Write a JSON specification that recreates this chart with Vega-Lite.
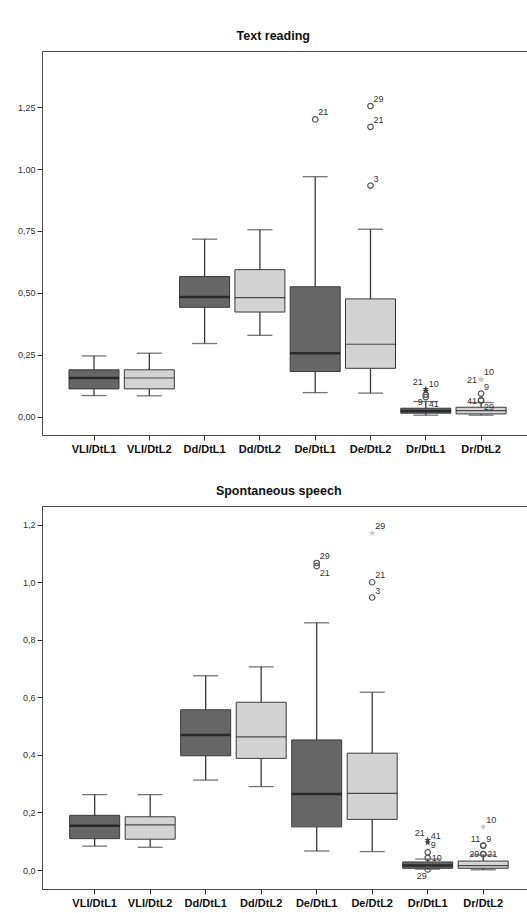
{
  "$schema": "https://vega.github.io/schema/vega-lite/v6.json",
  "padding": {"left": 16, "top": 29, "right": 0, "bottom": 0},
  "spacing": 29,
  "datasets": {
    "tr_box": [
      {"group": "VLI/DtL1", "lang": "L1", "lower": 0.086, "q1": 0.113, "median": 0.157, "q3": 0.19, "upper": 0.246},
      {"group": "VLI/DtL2", "lang": "L2", "lower": 0.085, "q1": 0.113, "median": 0.157, "q3": 0.19, "upper": 0.257},
      {"group": "Dd/DtL1", "lang": "L1", "lower": 0.296, "q1": 0.442, "median": 0.484, "q3": 0.566, "upper": 0.717},
      {"group": "Dd/DtL2", "lang": "L2", "lower": 0.329, "q1": 0.423, "median": 0.481, "q3": 0.594, "upper": 0.755},
      {"group": "De/DtL1", "lang": "L1", "lower": 0.098, "q1": 0.183, "median": 0.257, "q3": 0.525, "upper": 0.969},
      {"group": "De/DtL2", "lang": "L2", "lower": 0.096, "q1": 0.196, "median": 0.293, "q3": 0.476, "upper": 0.757},
      {"group": "Dr/DtL1", "lang": "L1", "lower": 0.007, "q1": 0.015, "median": 0.024, "q3": 0.035, "upper": 0.062},
      {"group": "Dr/DtL2", "lang": "L2", "lower": 0.007, "q1": 0.012, "median": 0.025, "q3": 0.039, "upper": 0.058}
    ],
    "tr_out": [
      {"group": "De/DtL1", "lang": "L1", "id": "21", "kind": "outlier", "value": 1.2},
      {"group": "De/DtL2", "lang": "L2", "id": "29", "kind": "outlier", "value": 1.254},
      {"group": "De/DtL2", "lang": "L2", "id": "21", "kind": "outlier", "value": 1.17},
      {"group": "De/DtL2", "lang": "L2", "id": "3", "kind": "outlier", "value": 0.933},
      {"group": "Dr/DtL1", "lang": "L1", "id": "21", "kind": "extreme", "value": 0.112},
      {"group": "Dr/DtL1", "lang": "L1", "id": "10", "kind": "extreme", "value": 0.104},
      {"group": "Dr/DtL1", "lang": "L1", "id": "9", "kind": "outlier", "value": 0.09},
      {"group": "Dr/DtL1", "lang": "L1", "id": "41", "kind": "outlier", "value": 0.08},
      {"group": "Dr/DtL2", "lang": "L2", "id": "10", "kind": "extreme", "value": 0.153},
      {"group": "Dr/DtL2", "lang": "L2", "id": "21", "kind": "extreme", "value": 0.148},
      {"group": "Dr/DtL2", "lang": "L2", "id": "9", "kind": "outlier", "value": 0.094},
      {"group": "Dr/DtL2", "lang": "L2", "id": "29", "kind": "outlier", "value": 0.068},
      {"group": "Dr/DtL2", "lang": "L2", "id": "41", "kind": "outlier", "value": 0.066}
    ],
    "ss_box": [
      {"group": "VLI/DtL1", "lang": "L1", "lower": 0.083, "q1": 0.109, "median": 0.154, "q3": 0.19, "upper": 0.262},
      {"group": "VLI/DtL2", "lang": "L2", "lower": 0.079, "q1": 0.107, "median": 0.157, "q3": 0.185, "upper": 0.262},
      {"group": "Dd/DtL1", "lang": "L1", "lower": 0.3125, "q1": 0.397, "median": 0.469, "q3": 0.557, "upper": 0.675},
      {"group": "Dd/DtL2", "lang": "L2", "lower": 0.29, "q1": 0.388, "median": 0.463, "q3": 0.583, "upper": 0.706},
      {"group": "De/DtL1", "lang": "L1", "lower": 0.066, "q1": 0.15, "median": 0.264, "q3": 0.452, "upper": 0.859},
      {"group": "De/DtL2", "lang": "L2", "lower": 0.064, "q1": 0.176, "median": 0.266, "q3": 0.406, "upper": 0.618},
      {"group": "Dr/DtL1", "lang": "L1", "lower": 0.003, "q1": 0.006, "median": 0.016, "q3": 0.028, "upper": 0.038},
      {"group": "Dr/DtL2", "lang": "L2", "lower": 0.001, "q1": 0.006, "median": 0.015, "q3": 0.031, "upper": 0.052}
    ],
    "ss_out": [
      {"group": "De/DtL1", "lang": "L1", "id": "29", "kind": "outlier", "value": 1.067},
      {"group": "De/DtL1", "lang": "L1", "id": "21", "kind": "outlier", "value": 1.056},
      {"group": "De/DtL2", "lang": "L2", "id": "29", "kind": "extreme", "value": 1.171},
      {"group": "De/DtL2", "lang": "L2", "id": "21", "kind": "outlier", "value": 1.0},
      {"group": "De/DtL2", "lang": "L2", "id": "3", "kind": "outlier", "value": 0.947},
      {"group": "Dr/DtL1", "lang": "L1", "id": "21", "kind": "extreme", "value": 0.104},
      {"group": "Dr/DtL1", "lang": "L1", "id": "41", "kind": "extreme", "value": 0.095},
      {"group": "Dr/DtL1", "lang": "L1", "id": "9", "kind": "outlier", "value": 0.0615},
      {"group": "Dr/DtL1", "lang": "L1", "id": "10", "kind": "outlier", "value": 0.042},
      {"group": "Dr/DtL1", "lang": "L1", "id": "29", "kind": "outlier", "value": 0.002},
      {"group": "Dr/DtL2", "lang": "L2", "id": "10", "kind": "extreme", "value": 0.15},
      {"group": "Dr/DtL2", "lang": "L2", "id": "11", "kind": "outlier", "value": 0.085},
      {"group": "Dr/DtL2", "lang": "L2", "id": "9", "kind": "outlier", "value": 0.085},
      {"group": "Dr/DtL2", "lang": "L2", "id": "29", "kind": "outlier", "value": 0.055},
      {"group": "Dr/DtL2", "lang": "L2", "id": "21", "kind": "outlier", "value": 0.055}
    ]
  },
  "vconcat": [
    {
      "title": {"text": "Text reading"},
      "width": 487,
      "height": 384,
      "encoding": {
        "x": {"field": "group", "type": "nominal", "title": null,
          "scale": {"domain": ["VLI/DtL1", "VLI/DtL2", "Dd/DtL1", "Dd/DtL2", "De/DtL1", "De/DtL2", "Dr/DtL1", "Dr/DtL2"], "paddingInner": 0, "paddingOuter": 0.4035, "align": 0.546}}
      },
      "layer": [
        {"data": {"name": "tr_box"}, "mark": {"type": "rule", "color": "#3a3a3a", "strokeWidth": 1.3},
          "encoding": {"y": {"field": "lower", "type": "quantitative", "title": null,
            "scale": {"domain": [-0.073, 1.476], "nice": false, "zero": false},
            "axis": {"values": [0, 0.25, 0.5, 0.75, 1, 1.25], "format": ".2f"}},
            "y2": {"field": "upper"}}},
        {"data": {"name": "tr_box"}, "mark": {"type": "tick", "size": 25, "thickness": 1.3, "color": "#3a3a3a"},
          "encoding": {"y": {"field": "lower", "type": "quantitative", "title": null}}},
        {"data": {"name": "tr_box"}, "mark": {"type": "tick", "size": 25, "thickness": 1.3, "color": "#3a3a3a"},
          "encoding": {"y": {"field": "upper", "type": "quantitative", "title": null}}},
        {"data": {"name": "tr_box"}, "mark": {"type": "bar", "size": 50, "stroke": "#3a3a3a", "strokeWidth": 1},
          "encoding": {"y": {"field": "q1", "type": "quantitative", "title": null}, "y2": {"field": "q3"},
            "fill": {"field": "lang", "type": "nominal", "scale": {"domain": ["L1", "L2"], "range": ["#666666", "#d3d3d3"]}, "legend": null}}},
        {"data": {"name": "tr_box"}, "transform": [{"filter": "datum.lang === 'L1'"}], "mark": {"type": "tick", "size": 50, "thickness": 2.5, "color": "#111111"},
          "encoding": {"y": {"field": "median", "type": "quantitative", "title": null}}},
        {"data": {"name": "tr_box"}, "transform": [{"filter": "datum.lang === 'L2'"}], "mark": {"type": "tick", "size": 50, "thickness": 1.2, "color": "#111111"},
          "encoding": {"y": {"field": "median", "type": "quantitative", "title": null}}},
        {"data": {"name": "tr_out"}, "transform": [{"filter": "datum.kind === 'outlier'"}], "mark": {"type": "point", "shape": "circle", "filled": false, "size": 30, "stroke": "#555555", "strokeWidth": 1.2, "opacity": 1},
          "encoding": {"y": {"field": "value", "type": "quantitative", "title": null}}},
        {"data": {"name": "tr_out"}, "transform": [{"filter": "datum.kind === 'extreme'"}], "mark": {"type": "point", "shape": "M0,-1L0.2245,-0.309L0.951,-0.309L0.363,0.118L0.588,0.809L0,0.382L-0.588,0.809L-0.363,0.118L-0.951,-0.309L-0.2245,-0.309Z", "filled": true, "size": 50, "opacity": 1},
          "encoding": {"y": {"field": "value", "type": "quantitative", "title": null},
            "color": {"field": "lang", "type": "nominal", "scale": {"domain": ["L1", "L2"], "range": ["#444444", "#c8c8c8"]}, "legend": null}}},
        {"data": {"name": "tr_out"}, "transform": [{"filter": "indexof(['Dr/DtL1|21','Dr/DtL2|21','Dr/DtL2|41','Dr/DtL1|9','Dr/DtL1|41','Dr/DtL2|29'], datum.group + '|' + datum.id) < 0"}],
          "mark": {"type": "text", "align": "left", "baseline": "middle", "dx": 3, "dy": -7, "fontSize": 9, "color": "#333333"},
          "encoding": {"y": {"field": "value", "type": "quantitative", "title": null}, "text": {"field": "id"}}},
        {"data": {"name": "tr_out"}, "transform": [{"filter": "indexof(['Dr/DtL1|21'], datum.group + '|' + datum.id) >= 0"}],
          "mark": {"type": "text", "align": "right", "baseline": "middle", "dx": -3, "dy": -7, "fontSize": 9, "color": "#333333"},
          "encoding": {"y": {"field": "value", "type": "quantitative", "title": null}, "text": {"field": "id"}}},
        {"data": {"name": "tr_out"}, "transform": [{"filter": "indexof(['Dr/DtL2|21','Dr/DtL2|41'], datum.group + '|' + datum.id) >= 0"}],
          "mark": {"type": "text", "align": "right", "baseline": "middle", "dx": -4, "dy": 0, "fontSize": 9, "color": "#333333"},
          "encoding": {"y": {"field": "value", "type": "quantitative", "title": null}, "text": {"field": "id"}}},
        {"data": {"name": "tr_out"}, "transform": [{"filter": "indexof(['Dr/DtL1|9'], datum.group + '|' + datum.id) >= 0"}],
          "mark": {"type": "text", "align": "right", "baseline": "middle", "dx": -3, "dy": 7, "fontSize": 9, "color": "#333333"},
          "encoding": {"y": {"field": "value", "type": "quantitative", "title": null}, "text": {"field": "id"}}},
        {"data": {"name": "tr_out"}, "transform": [{"filter": "indexof(['Dr/DtL1|41','Dr/DtL2|29'], datum.group + '|' + datum.id) >= 0"}],
          "mark": {"type": "text", "align": "left", "baseline": "middle", "dx": 3, "dy": 7, "fontSize": 9, "color": "#333333"},
          "encoding": {"y": {"field": "value", "type": "quantitative", "title": null}, "text": {"field": "id"}}}
      ]
    },
    {
      "title": {"text": "Spontaneous speech"},
      "width": 493,
      "height": 383,
      "encoding": {
        "x": {"field": "group", "type": "nominal", "title": null,
          "scale": {"domain": ["VLI/DtL1", "VLI/DtL2", "Dd/DtL1", "Dd/DtL2", "De/DtL1", "De/DtL2", "Dr/DtL1", "Dr/DtL2"], "paddingInner": 0, "paddingOuter": 0.441, "align": 0.509}}
      },
      "layer": [
        {"data": {"name": "ss_box"}, "mark": {"type": "rule", "color": "#3a3a3a", "strokeWidth": 1.3},
          "encoding": {"y": {"field": "lower", "type": "quantitative", "title": null,
            "scale": {"domain": [-0.066, 1.265], "nice": false, "zero": false},
            "axis": {"values": [0, 0.2, 0.4, 0.6, 0.8, 1, 1.2], "format": ".1f"}},
            "y2": {"field": "upper"}}},
        {"data": {"name": "ss_box"}, "mark": {"type": "tick", "size": 25, "thickness": 1.3, "color": "#3a3a3a"},
          "encoding": {"y": {"field": "lower", "type": "quantitative", "title": null}}},
        {"data": {"name": "ss_box"}, "mark": {"type": "tick", "size": 25, "thickness": 1.3, "color": "#3a3a3a"},
          "encoding": {"y": {"field": "upper", "type": "quantitative", "title": null}}},
        {"data": {"name": "ss_box"}, "mark": {"type": "bar", "size": 50, "stroke": "#3a3a3a", "strokeWidth": 1},
          "encoding": {"y": {"field": "q1", "type": "quantitative", "title": null}, "y2": {"field": "q3"},
            "fill": {"field": "lang", "type": "nominal", "scale": {"domain": ["L1", "L2"], "range": ["#666666", "#d3d3d3"]}, "legend": null}}},
        {"data": {"name": "ss_box"}, "transform": [{"filter": "datum.lang === 'L1'"}], "mark": {"type": "tick", "size": 50, "thickness": 2.5, "color": "#111111"},
          "encoding": {"y": {"field": "median", "type": "quantitative", "title": null}}},
        {"data": {"name": "ss_box"}, "transform": [{"filter": "datum.lang === 'L2'"}], "mark": {"type": "tick", "size": 50, "thickness": 1.2, "color": "#111111"},
          "encoding": {"y": {"field": "median", "type": "quantitative", "title": null}}},
        {"data": {"name": "ss_out"}, "transform": [{"filter": "datum.kind === 'outlier'"}], "mark": {"type": "point", "shape": "circle", "filled": false, "size": 30, "stroke": "#555555", "strokeWidth": 1.2, "opacity": 1},
          "encoding": {"y": {"field": "value", "type": "quantitative", "title": null}}},
        {"data": {"name": "ss_out"}, "transform": [{"filter": "datum.kind === 'extreme'"}], "mark": {"type": "point", "shape": "M0,-1L0.2245,-0.309L0.951,-0.309L0.363,0.118L0.588,0.809L0,0.382L-0.588,0.809L-0.363,0.118L-0.951,-0.309L-0.2245,-0.309Z", "filled": true, "size": 50, "opacity": 1},
          "encoding": {"y": {"field": "value", "type": "quantitative", "title": null},
            "color": {"field": "lang", "type": "nominal", "scale": {"domain": ["L1", "L2"], "range": ["#444444", "#c8c8c8"]}, "legend": null}}},
        {"data": {"name": "ss_out"}, "transform": [{"filter": "indexof(['Dr/DtL1|21','Dr/DtL2|11','Dr/DtL2|29','Dr/DtL1|29','De/DtL1|21','Dr/DtL1|10','Dr/DtL2|21'], datum.group + '|' + datum.id) < 0"}],
          "mark": {"type": "text", "align": "left", "baseline": "middle", "dx": 3, "dy": -7, "fontSize": 9, "color": "#333333"},
          "encoding": {"y": {"field": "value", "type": "quantitative", "title": null}, "text": {"field": "id"}}},
        {"data": {"name": "ss_out"}, "transform": [{"filter": "indexof(['Dr/DtL1|21','Dr/DtL2|11'], datum.group + '|' + datum.id) >= 0"}],
          "mark": {"type": "text", "align": "right", "baseline": "middle", "dx": -3, "dy": -7, "fontSize": 9, "color": "#333333"},
          "encoding": {"y": {"field": "value", "type": "quantitative", "title": null}, "text": {"field": "id"}}},
        {"data": {"name": "ss_out"}, "transform": [{"filter": "indexof(['Dr/DtL2|29'], datum.group + '|' + datum.id) >= 0"}],
          "mark": {"type": "text", "align": "right", "baseline": "middle", "dx": -4, "dy": 0, "fontSize": 9, "color": "#333333"},
          "encoding": {"y": {"field": "value", "type": "quantitative", "title": null}, "text": {"field": "id"}}},
        {"data": {"name": "ss_out"}, "transform": [{"filter": "indexof(['Dr/DtL1|29'], datum.group + '|' + datum.id) >= 0"}],
          "mark": {"type": "text", "align": "right", "baseline": "middle", "dx": -1, "dy": 7, "fontSize": 9, "color": "#333333"},
          "encoding": {"y": {"field": "value", "type": "quantitative", "title": null}, "text": {"field": "id"}}},
        {"data": {"name": "ss_out"}, "transform": [{"filter": "indexof(['De/DtL1|21'], datum.group + '|' + datum.id) >= 0"}],
          "mark": {"type": "text", "align": "left", "baseline": "middle", "dx": 3, "dy": 7, "fontSize": 9, "color": "#333333"},
          "encoding": {"y": {"field": "value", "type": "quantitative", "title": null}, "text": {"field": "id"}}},
        {"data": {"name": "ss_out"}, "transform": [{"filter": "indexof(['Dr/DtL1|10','Dr/DtL2|21'], datum.group + '|' + datum.id) >= 0"}],
          "mark": {"type": "text", "align": "left", "baseline": "middle", "dx": 4, "dy": 0, "fontSize": 9, "color": "#333333"},
          "encoding": {"y": {"field": "value", "type": "quantitative", "title": null}, "text": {"field": "id"}}}
      ]
    }
  ],
  "config": {
    "font": "Liberation Sans",
    "background": "white",
    "view": {"stroke": "#4a4a4a", "strokeWidth": 1},
    "locale": {"number": {"decimal": ",", "thousands": ".", "grouping": [3], "currency": ["", "€"]}},
    "axisY": {"grid": false, "domain": false, "tickSize": 5, "tickColor": "#333333", "labelFontSize": 9, "labelColor": "#333333", "labelPadding": 2},
    "axisX": {"grid": false, "domain": false, "tickSize": 5, "tickColor": "#333333", "labelFontSize": 11, "labelFontWeight": "bold", "labelColor": "#111111", "labelAngle": 0, "labelPadding": 3},
    "title": {"fontSize": 12.5, "fontWeight": "bold", "frame": "bounds", "anchor": "middle", "offset": 9, "color": "#111111"}
  }
}
